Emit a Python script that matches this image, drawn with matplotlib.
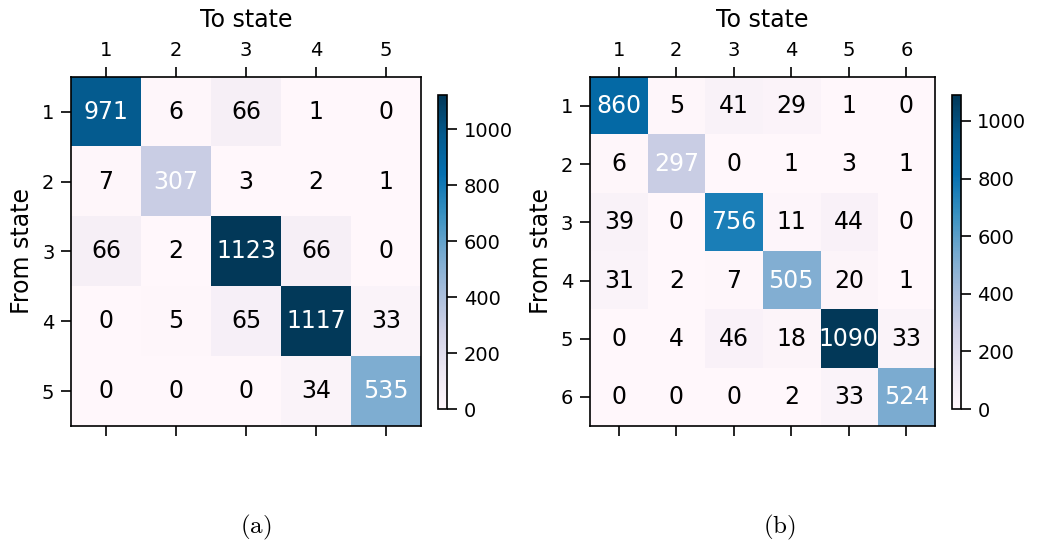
import numpy as np
import matplotlib
matplotlib.use('Agg')
import matplotlib.pyplot as plt

plt.rcParams['mathtext.fontset'] = 'cm'

# transition counts, rows = from state, cols = to state
states_a = ['1', '2', '3', '4', '5']
counts_a = [[971, 6, 66, 1, 0],
            [7, 307, 3, 2, 1],
            [66, 2, 1123, 66, 0],
            [0, 5, 65, 1117, 33],
            [0, 0, 0, 34, 535]]

states_b = ['1', '2', '3', '4', '5', '6']
counts_b = [[860, 5, 41, 29, 1, 0],
            [6, 297, 0, 1, 3, 1],
            [39, 0, 756, 11, 44, 0],
            [31, 2, 7, 505, 20, 1],
            [0, 4, 46, 18, 1090, 33],
            [0, 0, 0, 2, 33, 524]]

captions = ['(a)', '(b)']


def draw_matrix(ax, cax, counts, states):
    m = np.array(counts)
    im = ax.imshow(m, cmap='PuBu', vmin=0, vmax=m.max(), aspect='auto')
    n = len(states)
    ax.set_xticks(np.arange(n))
    ax.set_yticks(np.arange(n))
    ax.set_xticklabels(states)
    ax.set_yticklabels(states)
    ax.tick_params(top=True, labeltop=True, bottom=True, labelbottom=False,
                   labelsize=14, length=7, width=1.2, pad=5)
    for s in ax.spines.values():
        s.set_linewidth(1.2)
    ax.xaxis.set_label_position('top')
    ax.set_xlabel('To state', fontsize=17, labelpad=10)
    ax.set_ylabel('From state', fontsize=17, labelpad=6)
    thr = m.max() / 4
    for i in range(n):
        for j in range(n):
            c = 'white' if m[i, j] > thr else 'black'
            ax.text(j, i, str(m[i, j]), ha='center', va='center',
                    color=c, fontsize=17)
    cb = plt.colorbar(im, cax=cax)
    cb.set_ticks([0, 200, 400, 600, 800, 1000])
    cb.ax.tick_params(labelsize=14, length=7, width=1.2, pad=5)
    cb.outline.set_linewidth(1.2)
    return im


fig = plt.figure(figsize=(10.51, 5.49), dpi=100)

ax1 = fig.add_axes([0.0676, 0.224, 0.333, 0.636])
cax1 = fig.add_axes([0.4170, 0.255, 0.0085, 0.572])
draw_matrix(ax1, cax1, counts_a, states_a)

ax2 = fig.add_axes([0.5614, 0.224, 0.3283, 0.636])
cax2 = fig.add_axes([0.9055, 0.255, 0.0085, 0.572])
draw_matrix(ax2, cax2, counts_b, states_b)

fig.text(0.243, 0.04, r'$\mathrm{%s}$' % captions[0], ha='center', va='center',
         fontsize=18)
fig.text(0.742, 0.04, r'$\mathrm{%s}$' % captions[1], ha='center', va='center',
         fontsize=18)

fig.savefig('out.png', dpi=100)
